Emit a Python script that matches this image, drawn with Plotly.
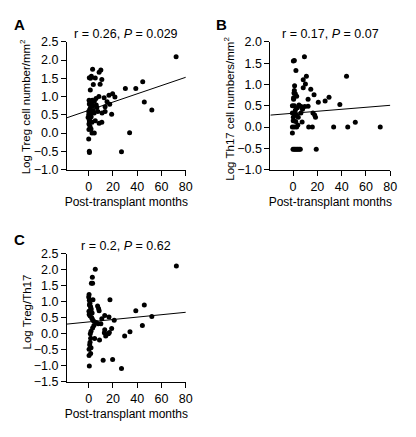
import plotly.graph_objects as go

# ---------------- data ----------------
a_months = [72, 3.2, 10, 8.6, 0.5, 2.2, 5.4, 10.8, 3.8, 1.3, 9.4, 44.5, 38.8, 30.2, 8.4, 12.7, 16.7,
            19.7, 21.6, 4.6, 1.1, 2.4, 6.2, 15.1, 17.3, 45.8, 52, 13.5, 6.7, 0, 1.3, 3.8, 7.5, 13.5,
            18.9, -0.5, 0.5, 2.7, 5.4, 8.6, 10.8, 1.1, 1.9, 2.7, 4.6, 33.7, 0, 0.5, 27,
            0.3, 1.5, 0.8, 2.0, 0.2, 1.0, 3.0, 0.5, 4.5, 2.5, 0.6, 1.5, 0.0, 1.0, 3.5, 6.0, 11.0, 0.2]
a_treg = [2.09, 1.75, 1.73, 1.67, 1.52, 1.56, 1.51, 1.47, 1.33, 1.18, 1.34, 1.41, 1.22, 1.22, 1.0, 0.97,
          1.04, 1.08, 0.99, 0.87, 0.85, 0.79, 0.77, 0.86, 0.79, 0.85, 0.63, 0.72, 0.70, 0.59, 0.52,
          0.61, 0.59, 0.59, 0.52, 0.43, 0.34, 0.30, 0.34, 0.27, 0.30, 0.18, 0.11, 0.0, 0.0, 0.01,
          -0.16, -0.5, -0.51,
          0.90, 0.70, 0.65, 0.45, 0.25, 0.40, 0.90, 0.80, 0.55, 0.60, -0.53, 1.50, 0.50, 0.30, 0.75,
          0.95, 0.55, 0.10]
a_fit_x = [-18, 80]
a_fit_y = [0.42, 1.53]

b_months = [9.4, 0.3, 1.1, 2.4, 11, 44, 8.4, 10.2, 1.3, 8.4, 14.6, 1.1, 0.8, 1.9, 17.3, 3, 0.5, 29.6,
            26.4, 12.4, 20.8, 38.5, -0.5, 1.1, 4.9, 6.7, 9.7, 12.4, 3.5, 7.8, -0.5, 1.1, 6.5, 16.4,
            17.8, 18.5, 3, 4.3, 0.3, 7.5, 2.2, -0.5, 1.1, 3, 12.9, 15.9, 33.4, 45, 51.2, 71.7, -0.5,
            0, 1, 2, 3, 4, 5, 6, 19.1, 0.5, 2, 1.5, 0.2, 4.0]
b_th17 = [1.65, 1.55, 1.56, 1.33, 1.19, 1.19, 1.11, 1.01, 0.97, 0.92, 0.89, 0.86, 0.80, 0.78, 0.76,
          0.72, 0.69, 0.70, 0.61, 0.65, 0.58, 0.53, 0.50, 0.50, 0.52, 0.48, 0.48, 0.49, 0.45, 0.42,
          0.33, 0.33, 0.33, 0.33, 0.28, 0.23, 0.28, 0.23, 0.23, 0.12, 0.13, 0.0, 0.0, 0.0, 0.0, 0.0,
          0.0, 0.0, 0.11, 0.0, -0.14, -0.52, -0.52, -0.52, -0.52, -0.52, -0.52, -0.52, -0.52,
          0.65, 0.40, 0.30, 0.15, 0.05]
b_fit_x = [-18.6, 80]
b_fit_y = [0.28, 0.51]

c_months = [72.2, 5.4, 3, 2.2, 3.2, 0.3, 3.5, 17.5, 45.8, 38.8, 7.3, 8.1, 8.6, 52, 13.2, 16.7, 21.0,
            10.8, 6.2, 7.8, 10, 4.3, 3.2, 13.2, 18.9, 44.2, 34, 1.9, 1.3, 12.9, 16.2, 17, 29.6, 14,
            4.9, 8.9, 1.6, 1.1, 0.8, 1.9, 0.3, 1.6, 0.3, 11.9, 19.7, 0.5, 27,
            0.0, 0.5, 1.0, 1.5, 2.0, 0.2, 0.8, 1.2, 2.5, 0.4, 1.8, 3.0, 0.6, 4.0, 2.8]
c_ratio = [2.12, 2.02, 1.77, 1.58, 1.58, 1.23, 1.06, 1.06, 0.90, 0.72, 0.87, 0.79, 0.72, 0.54, 0.57,
           0.52, 0.42, 0.47, 0.35, 0.31, 0.31, 0.26, 0.18, 0.12, 0.16, 0.26, 0.06, 0.08, 0.0, 0.03,
           0.0, 0.04, -0.07, -0.07, -0.15, -0.2, -0.14, -0.27, -0.35, -0.44, -0.49, -0.62, -0.68,
           -0.83, -0.81, -1.01, -1.09,
           1.15, 1.05, 0.95, 0.85, 0.75, 0.70, 0.65, 0.55, 0.50, 0.60, 0.80, 0.45, 0.90, 0.40, 0.65]
c_fit_x = [-18, 80]
c_fit_y = [0.30, 0.67]

panels = [
    dict(letter="A", x=a_months, y=a_treg, fx=a_fit_x, fy=a_fit_y,
         stat="r = 0.26, <i>P</i> = 0.029", ytitle="Log Treg cell number/mm<sup>2</sup>",
         yrange=[-1.0, 2.5], ytick=[-1.0, -0.5, 0.0, 0.5, 1.0, 1.5, 2.0, 2.5], xrange=[-18, 80]),
    dict(letter="B", x=b_months, y=b_th17, fx=b_fit_x, fy=b_fit_y,
         stat="r = 0.17, <i>P</i> = 0.07", ytitle="Log Th17 cell numbers/mm<sup>2</sup>",
         yrange=[-1.0, 2.0], ytick=[-1.0, -0.5, 0.0, 0.5, 1.0, 1.5, 2.0], xrange=[-18.6, 80]),
    dict(letter="C", x=c_months, y=c_ratio, fx=c_fit_x, fy=c_fit_y,
         stat="r = 0.2, <i>P</i> = 0.62", ytitle="Log Treg/Th17",
         yrange=[-1.5, 2.5], ytick=[-1.5, -1.0, -0.5, 0.0, 0.5, 1.0, 1.5, 2.0, 2.5], xrange=[-18, 80]),
]

W, H = 416, 437
boxes = [  # left, right, top, bottom in pixels
    (68, 189, 36, 168),
    (275, 397, 36, 168),
    (68, 189, 255, 387),
]
letter_pos = [(12, 18), (218, 18), (12, 240)]
ytitle_pos = [(25, 103), (233, 105), (27, 315)]

FONT = "Liberation Sans, Arial, sans-serif"
fig = go.Figure()
annotations = []
for i, (p, (l, r, t, b)) in enumerate(zip(panels, boxes)):
    n = "" if i == 0 else str(i + 1)
    xa, ya = "x" + n, "y" + n
    fig.add_trace(go.Scatter(x=p["x"], y=p["y"], mode="markers", xaxis=xa, yaxis=ya,
                             marker=dict(color="black", size=5), showlegend=False))
    fig.add_trace(go.Scatter(x=p["fx"], y=p["fy"], mode="lines", xaxis=xa, yaxis=ya,
                             line=dict(color="black", width=1), showlegend=False))
    axis_common = dict(showline=True, linecolor="black", linewidth=1, ticks="outside",
                       ticklen=5, tickwidth=1, tickcolor="black", showgrid=False, zeroline=False,
                       tickfont=dict(size=12.5, color="black", family=FONT))
    fig.update_layout(**{
        "xaxis" + n: dict(domain=[l / W, r / W], anchor=ya, range=p["xrange"],
                          tickvals=[0, 20, 40, 60, 80],
                          title=dict(text="Post-transplant months", standoff=4,
                                     font=dict(size=12, color="black", family=FONT)),
                          **axis_common),
        "yaxis" + n: dict(domain=[1 - b / H, 1 - t / H], anchor=xa, range=p["yrange"],
                          tickvals=p["ytick"], tickformat=".1f", **axis_common),
    })
    tx, ty = ytitle_pos[i]
    annotations.append(dict(text=p["ytitle"], x=tx / W, y=1 - ty / H,
                            xref="paper", yref="paper", showarrow=False, textangle=-90,
                            xanchor="center", yanchor="middle",
                            font=dict(size=11.5, color="black", family=FONT)))
    annotations.append(dict(text=p["stat"], x=(l + r) / 2 / W, y=1 - (t - 8) / H,
                            xref="paper", yref="paper", showarrow=False,
                            xanchor="center", yanchor="middle",
                            font=dict(size=12.5, color="black", family=FONT)))
    lx, ly = letter_pos[i]
    annotations.append(dict(text="<b>" + p["letter"] + "</b>", x=lx / W, y=1 - ly / H,
                            xref="paper", yref="paper", showarrow=False,
                            xanchor="left", yanchor="middle",
                            font=dict(size=15, color="black", family=FONT)))

fig.update_layout(width=W, height=H, margin=dict(l=0, r=0, t=0, b=0),
                  paper_bgcolor="white", plot_bgcolor="white",
                  annotations=annotations, font=dict(family=FONT, color="black"))
fig.write_html("out.html", config={"displayModeBar": False},
               post_script="document.body.style.margin='0';document.body.style.overflow='hidden';")
